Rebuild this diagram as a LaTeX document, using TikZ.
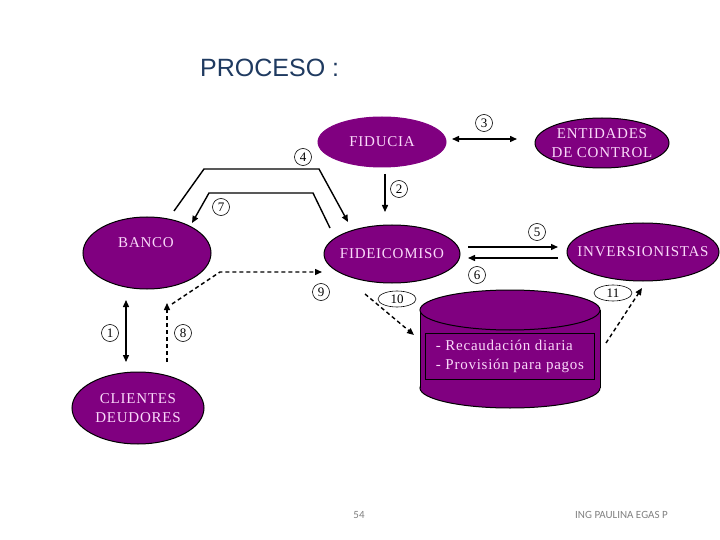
\documentclass[tikz,border=0pt]{standalone}
\usepackage{fontspec}
\setmainfont{Liberation Serif}
\newfontfamily\spacedfont[LetterSpace=5]{Liberation Serif}
\newfontfamily\titlefont{Liberation Sans}
\newfontfamily\footfont{Carlito}
\usetikzlibrary{shapes.geometric,arrows.meta}
\definecolor{fillpurple}{HTML}{800080}
\definecolor{palepink}{HTML}{FAD9FA}
\definecolor{titleblue}{HTML}{1F3A60}

\begin{document}
\begin{tikzpicture}[x=1pt,y=-1pt,
    entitytext/.style={text=palepink, inner sep=0pt, align=center, font=\spacedfont\fontsize{15}{19}\selectfont},
    entity/.style={entitytext, ellipse, inner xsep=-14pt, fill=fillpurple, draw=black, line width=1pt},
    num/.style={circle, draw=black, line width=0.6pt, inner sep=0pt, minimum size=17pt, font=\fontsize{13}{13}\selectfont},
    numwide/.style={num, ellipse, minimum width=38pt, minimum height=16pt},
    flow/.style={line width=1.4pt, -{Triangle[length=7pt,width=6pt]}},
    both/.style={line width=1.4pt, {Triangle[length=7pt,width=6pt]}-{Triangle[length=7pt,width=6pt]}},
    dflow/.style={flow, dash pattern=on 4pt off 3pt}]
    \useasboundingbox (0,0) rectangle (720,540);

    % Title
    \node[font=\titlefont\fontsize{25}{25}\selectfont, text=titleblue, inner sep=0pt, anchor=west] (titulo) at (200,68) {PROCESO :};

    % Entities
    \node[entity, draw=fillpurple, minimum width=128pt, minimum height=50pt] (fiducia) at (382,142) {FIDUCIA};
    \node[entity, minimum width=134pt, minimum height=50pt] (entidades) at (602,143) {ENTIDADES\\DE CONTROL};
    \node[entity, minimum width=128pt, minimum height=72pt] (banco) at (147,253) {};
    \node[entitytext] (bancotxt) at (146,243) {BANCO};
    \node[entity, minimum width=136pt, minimum height=58pt] (fideicomiso) at (392,254) {FIDEICOMISO};
    \node[entity, minimum width=152pt, minimum height=58pt] (inversionistas) at (643,252) {INVERSIONISTAS};
    \node[entity, minimum width=132pt, minimum height=72pt] (clientes) at (138,408) {CLIENTES\\DEUDORES};

    % Cylinder
    \filldraw[fill=fillpurple, line width=1pt] (510,388) ellipse [x radius=90, y radius=20];
    \fill[fillpurple] (420,310) rectangle (600,388);
    \draw[line width=1pt] (420,310) -- (420,388) (600,310) -- (600,388);
    \filldraw[fill=fillpurple, line width=1pt] (510,310) ellipse [x radius=90, y radius=20];
    \node[entitytext, draw=black, line width=1pt, minimum width=169pt, minimum height=46pt, align=left] (cuadro) at (510,356)
        {- Recaudación diaria\\- Provisión para pagos};

    % Connector ends
    \coordinate (c1a) at (126,300);  \coordinate (c1b) at (126,362);
    \coordinate (c2a) at (385,174);  \coordinate (c2b) at (385,212);
    \coordinate (c3a) at (452,139);  \coordinate (c3b) at (517,139);
    \coordinate (c4a) at (174,211);  \coordinate (c4b) at (348,222);
    \coordinate (c5a) at (468,247);  \coordinate (c5b) at (558,247);
    \coordinate (c6a) at (558,258);  \coordinate (c6b) at (468,258);
    \coordinate (c7a) at (330,228);  \coordinate (c7b) at (192,223);
    \coordinate (c8a) at (167,362);  \coordinate (c8b) at (167,303);
    \coordinate (c9a) at (172,304);  \coordinate (c9b) at (322,272);
    \coordinate (c10a) at (365,294); \coordinate (c10b) at (414,335);
    \coordinate (c11a) at (606,343); \coordinate (c11b) at (642,288);

    % Connectors
    \draw[both] (c1a) -- (c1b);
    \draw[flow] (c2a) -- (c2b);
    \draw[both] (c3a) -- (c3b);
    \draw[flow] (c4a) -- (204,169) -- (319,169) -- (c4b);
    \draw[flow] (c5a) -- (c5b);
    \draw[flow] (c6a) -- (c6b);
    \draw[flow] (c7a) -- (313,193) -- (209,193) -- (c7b);
    \draw[dflow] (c8a) -- (c8b);
    \draw[dflow] (c9a) -- (220,272) -- (c9b);
    \draw[dflow] (c10a) -- (c10b);
    \draw[dflow] (c11a) -- (c11b);

    % Step numbers
    \node[num] (n1) at (110,333) {1};
    \node[num] (n2) at (399,189) {2};
    \node[num] (n3) at (484,123) {3};
    \node[num] (n4) at (303,157) {4};
    \node[num] (n5) at (537,232) {5};
    \node[num] (n6) at (477,275) {6};
    \node[num] (n7) at (221,207) {7};
    \node[num] (n8) at (183,333) {8};
    \node[num] (n9) at (321,292) {9};
    \node[numwide] (n10) at (397,299) {10};
    \node[numwide] (n11) at (613,293) {11};

    % Footer
    \node[font=\footfont\fontsize{11}{11}\selectfont, text=gray, inner sep=0pt] (pagina) at (359,515) {54};
    \node[font=\footfont\fontsize{11}{11}\selectfont, text=gray, inner sep=0pt, anchor=west] (autora) at (575,515) {ING PAULINA EGAS P};
\end{tikzpicture}
\end{document}
